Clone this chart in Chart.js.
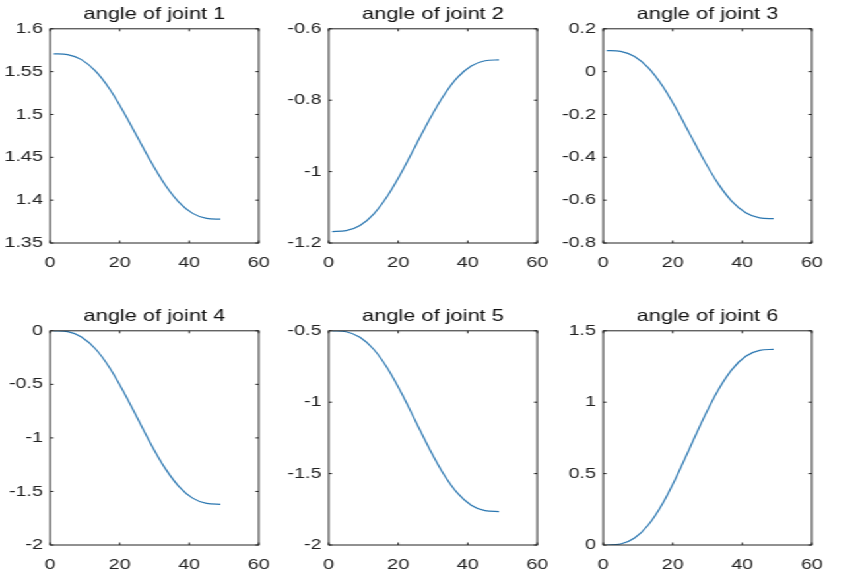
<!DOCTYPE html>
<html>
<head>
<meta charset="utf-8">
<script src="https://cdn.jsdelivr.net/npm/chart.js@4.4.1/dist/chart.umd.min.js"></script>
<style>
  html, body { margin: 0; padding: 0; background: #fff; }
  #stage { position: relative; width: 843px; height: 578px; overflow: hidden; }
  /* the figure was saved stretched sideways, so the whole grid is widened */
  #grid { position: absolute; left: 0; top: 0; width: 639px; height: 578px; transform: scaleX(1.32); transform-origin: 0 0; }
  .cell { position: absolute; width: 216px; height: 269px; }
</style>
</head>
<body>
<div id="stage"><div id="grid"></div></div>
<script>
// sample steps along the trajectory
const steps = [1, 5, 9, 13, 17, 21, 25, 29, 33, 37, 41, 45, 49];

// joint angles (rad)
const joint1 = [1.5708, 1.5698, 1.5640, 1.5508, 1.5303, 1.5039, 1.4743, 1.4447, 1.4183, 1.3978, 1.3846, 1.3788, 1.3778];
const joint2 = [-1.168, -1.1655, -1.1509, -1.1182, -1.0670, -1.0012, -0.9275, -0.8538, -0.7880, -0.7368, -0.7041, -0.6895, -0.687];
const joint3 = [0.0985, 0.0945, 0.0706, 0.0172, -0.0663, -0.1737, -0.2940, -0.4143, -0.5217, -0.6053, -0.6586, -0.6825, -0.6865];
const joint4 = [0, -0.0083, -0.0575, -0.1677, -0.3400, -0.5617, -0.8100, -1.0583, -1.2800, -1.4523, -1.5625, -1.6117, -1.62];
const joint5 = [-0.5, -0.5065, -0.5449, -0.6310, -0.7657, -0.9389, -1.1330, -1.3271, -1.5003, -1.6350, -1.7211, -1.7595, -1.766];
const joint6 = [0, 0.0070, 0.0486, 0.1418, 0.2876, 0.4750, 0.6850, 0.8950, 1.0824, 1.2282, 1.3214, 1.3630, 1.37];

const titles = ['angle of joint 1', 'angle of joint 2', 'angle of joint 3',
                'angle of joint 4', 'angle of joint 5', 'angle of joint 6'];
const yMin = [1.35, -1.2, -0.8, -2, -2, 0];
const yMax = [1.6, -0.6, 0.2, 0, -0.5, 1.5];
const yStep = [0.05, 0.2, 0.2, 0.5, 0.5, 0.5];
const xMin = 0, xMax = 60, xStep = 20;

const series = [joint1, joint2, joint3, joint4, joint5, joint6];

// subplot placement (unstretched px)
const cellLeft = [1.9, 212.5, 421.2];
const cellTop = [5.2, 306.7];

const axisColor = '#222222';
const lineColor = '#2a76b0';
const fontFamily = "'Liberation Sans', Arial, sans-serif";

// MATLAB style box with inward ticks on all four sides
const boxPlugin = {
    id: 'box',
    afterDraw(chart) {
        const { ctx, chartArea: a, scales } = chart;
        const tl = 2.5;
        ctx.save();
        ctx.strokeStyle = axisColor;
        ctx.lineWidth = 1;
        ctx.strokeRect(a.left, a.top, a.right - a.left, a.bottom - a.top);
        ctx.beginPath();
        scales.x.ticks.forEach(t => {
            const px = scales.x.getPixelForValue(t.value);
            ctx.moveTo(px, a.bottom); ctx.lineTo(px, a.bottom - tl);
            ctx.moveTo(px, a.top); ctx.lineTo(px, a.top + tl);
        });
        scales.y.ticks.forEach(t => {
            const py = scales.y.getPixelForValue(t.value);
            ctx.moveTo(a.left, py); ctx.lineTo(a.left + tl, py);
            ctx.moveTo(a.right, py); ctx.lineTo(a.right - tl, py);
        });
        ctx.stroke();
        ctx.restore();
    }
};

const fmt = v => String(+Number(v).toFixed(3));

function makeChart(i) {
    const cell = document.createElement('div');
    cell.className = 'cell';
    cell.style.left = cellLeft[i % 3] + 'px';
    cell.style.top = cellTop[Math.floor(i / 3)] + 'px';
    const canvas = document.createElement('canvas');
    cell.appendChild(canvas);
    document.getElementById('grid').appendChild(cell);

    const points = steps.map((x, k) => ({ x: x, y: series[i][k] }));

    return new Chart(canvas.getContext('2d'), {
        type: 'line',
        data: {
            datasets: [{
                data: points,
                borderColor: lineColor,
                borderWidth: 1.2,
                pointRadius: 0,
                fill: false,
                cubicInterpolationMode: 'monotone'
            }]
        },
        options: {
            responsive: true,
            maintainAspectRatio: false,
            animation: false,
            layout: { padding: { left: 0, right: 22, top: 0, bottom: 0 } },
            plugins: {
                legend: { display: false },
                tooltip: { enabled: false },
                title: {
                    display: true,
                    text: titles[i],
                    fullSize: false,
                    color: '#111111',
                    font: { family: fontFamily, size: 16.5, weight: 'normal', lineHeight: 1.2 },
                    padding: { top: 0, bottom: 4 }
                }
            },
            scales: {
                x: {
                    type: 'linear',
                    min: xMin,
                    max: xMax,
                    grid: { display: false, drawTicks: false },
                    border: { display: false },
                    ticks: {
                        stepSize: xStep,
                        color: axisColor,
                        padding: 11,
                        maxRotation: 0,
                        font: { family: fontFamily, size: 15 },
                        callback: fmt
                    },
                    afterFit: s => { s.height = 31; }
                },
                y: {
                    min: yMin[i],
                    max: yMax[i],
                    grid: { display: false, drawTicks: false },
                    border: { display: false },
                    ticks: {
                        stepSize: yStep[i],
                        color: axisColor,
                        padding: 5.5,
                        font: { family: fontFamily, size: 15 },
                        callback: fmt
                    },
                    afterFit: s => { s.width = 36; }
                }
            }
        },
        plugins: [boxPlugin]
    });
}

titles.forEach((t, i) => makeChart(i));
</script>
</body>
</html>
